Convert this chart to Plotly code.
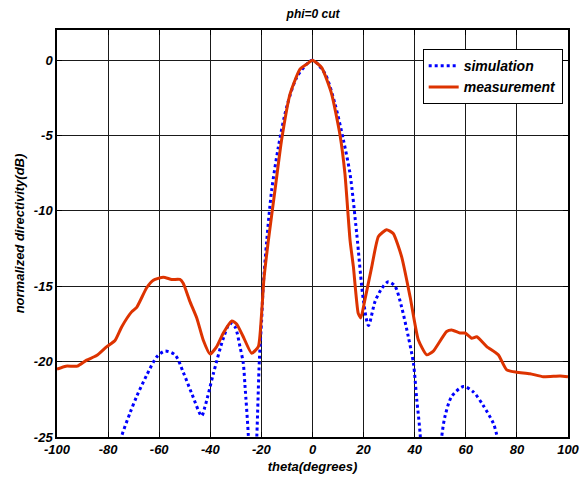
import plotly.graph_objects as go

# Measured pattern, phi = 0 cut
theta_meas = [-100, -96.5, -92, -88.4, -84.5, -80.5, -77.3, -74.7, -70.8, -68.8, -64.9,
              -62.3, -58.4, -55.1, -51.9, -50.6, -48, -45.3, -42.7, -40.1, -37.5, -34.9,
              -31.6, -29.7, -27.1, -23.8, -21.2, -20.0, -19.0, -17.3, -14.7, -12.1, -8.8,
              -4.9, -2.3, 0, 3.6, 7.5, 10.8, 12.7, 14.7, 16.0, 17.9, 18.9, 20.5, 23.2, 25.8,
              29.0, 31.6, 34.9, 38.2, 41.4, 44.7, 47.3, 52.5, 54.5, 57.7, 59.7, 62.3, 64.3,
              68.2, 72.7, 76.0, 79.9, 85.1, 90.3, 96.9, 100]
meas_db = [-20.5, -20.3, -20.3, -19.9, -19.6, -19.0, -18.6, -17.7, -16.7, -16.4, -15.1,
           -14.6, -14.4, -14.55, -14.55, -14.8, -16.0, -17.1, -18.6, -19.5, -19.0, -18.1,
           -17.3, -17.5, -18.35, -19.45, -19.0, -17.0, -14.5, -12.0, -8.65, -5.3, -2.25,
           -0.6, -0.27, 0, -0.5, -2.25, -5.0, -7.55, -11.95, -13.7, -16.8, -17.1, -15.9,
           -13.7, -11.7, -11.25, -11.5, -13.05, -15.7, -18.55, -19.55, -19.3, -18.0, -17.9,
           -18.1, -18.1, -18.45, -18.35, -19.0, -19.55, -20.55, -20.7, -20.8, -21.0, -20.95,
           -21.0]

# Simulated pattern, phi = 0 cut
theta_sim = [-76, -74.7, -71.4, -68.8, -64.9, -61.0, -57.8, -53.8, -50.6, -47.3, -43.4,
             -42.1, -38.8, -34.9, -32.3, -30.3, -28.4, -27.1, -26.4, -25.1, -23.5, -21.8,
             -20.8, -19.9, -19.3, -17.9, -16.0, -13.4, -10.1, -6.2, -2.3, 0, 4.9, 8.8,
             12.1, 14.7, 17.3, 19.9, 21.9, 24.5, 27.1, 29.7, 32.3, 34.9, 37.5, 39.5, 40.8,
             42.1, 45.5, 50.6, 51.9, 54.5, 59.1, 62.9, 66.8, 70.8, 72.1, 73.5]
sim_db = [-26, -24.95, -23.4, -22.3, -20.9, -19.7, -19.3, -19.55, -20.7, -22.1, -23.6,
          -23.0, -20.8, -18.45, -17.45, -17.7, -19.0, -20.1, -21.65, -24.95, -32, -25.0,
          -19.9, -17.2, -15.0, -11.95, -8.65, -5.8, -3.1, -1.15, -0.27, 0, -0.9, -2.9,
          -5.3, -7.55, -11.5, -15.9, -17.6, -16.0, -15.15, -14.7, -15.0, -16.4, -18.35,
          -20.1, -22.5, -24.75, -35, -24.95, -23.6, -22.3, -21.65, -22.0, -22.9, -24.1,
          -24.85, -26]

x_ticks = [-100, -80, -60, -40, -20, 0, 20, 40, 60, 80, 100]
y_ticks = [-25, -20, -15, -10, -5, 0]

FONT = "Liberation Sans, Arial, sans-serif"

fig = go.Figure()
fig.add_trace(go.Scatter(
    x=theta_sim, y=sim_db, mode="lines", name="simulation",
    line=dict(color="#0000ff", width=3, dash="dot", shape="spline", smoothing=0.8),
))
fig.add_trace(go.Scatter(
    x=theta_meas, y=meas_db, mode="lines", name="measurement",
    line=dict(color="#dd3300", width=3, shape="spline", smoothing=0.5),
))

axis_common = dict(
    showgrid=True, gridcolor="#1a1a1a", gridwidth=1,
    showline=True, linecolor="black", linewidth=1.5, mirror="allticks",
    ticks="inside", ticklen=5, tickcolor="black", tickwidth=1,
    zeroline=False, automargin=False,
    tickfont=dict(family=FONT, size=13, color="black", weight="bold", style="italic"),
)

fig.update_xaxes(
    range=[-100, 100], tickvals=x_ticks, ticktext=[str(v) for v in x_ticks],
    title=dict(text="theta(degrees)", standoff=6,
               font=dict(family=FONT, size=13, color="black", weight="bold", style="italic")),
    ticklabelstandoff=0,
    **axis_common,
)
fig.update_yaxes(
    range=[-25, 2], tickvals=y_ticks, ticktext=[str(v) for v in y_ticks],
    title=dict(text="normalized directivity(dB)", standoff=6,
               font=dict(family=FONT, size=13, color="black", weight="bold", style="italic")),
    ticklabelstandoff=0,
    **axis_common,
)

fig.update_layout(
    width=582, height=477,
    margin=dict(l=57, r=14, t=30, b=40),
    paper_bgcolor="white", plot_bgcolor="white",
    title=dict(text="phi=0 cut", x=0.538, xanchor="center", y=0.972, yanchor="middle",
               font=dict(family=FONT, size=12, color="black", weight="bold", style="italic")),
    legend=dict(
        x=0.9896, y=0.953, xanchor="right", yanchor="top",
        bgcolor="white", bordercolor="black", borderwidth=1,
        font=dict(family=FONT, size=14, color="black", weight="bold", style="italic"),
        itemwidth=30, tracegroupgap=0,
    ),
    showlegend=True,
)

fig.write_html("out.html")
